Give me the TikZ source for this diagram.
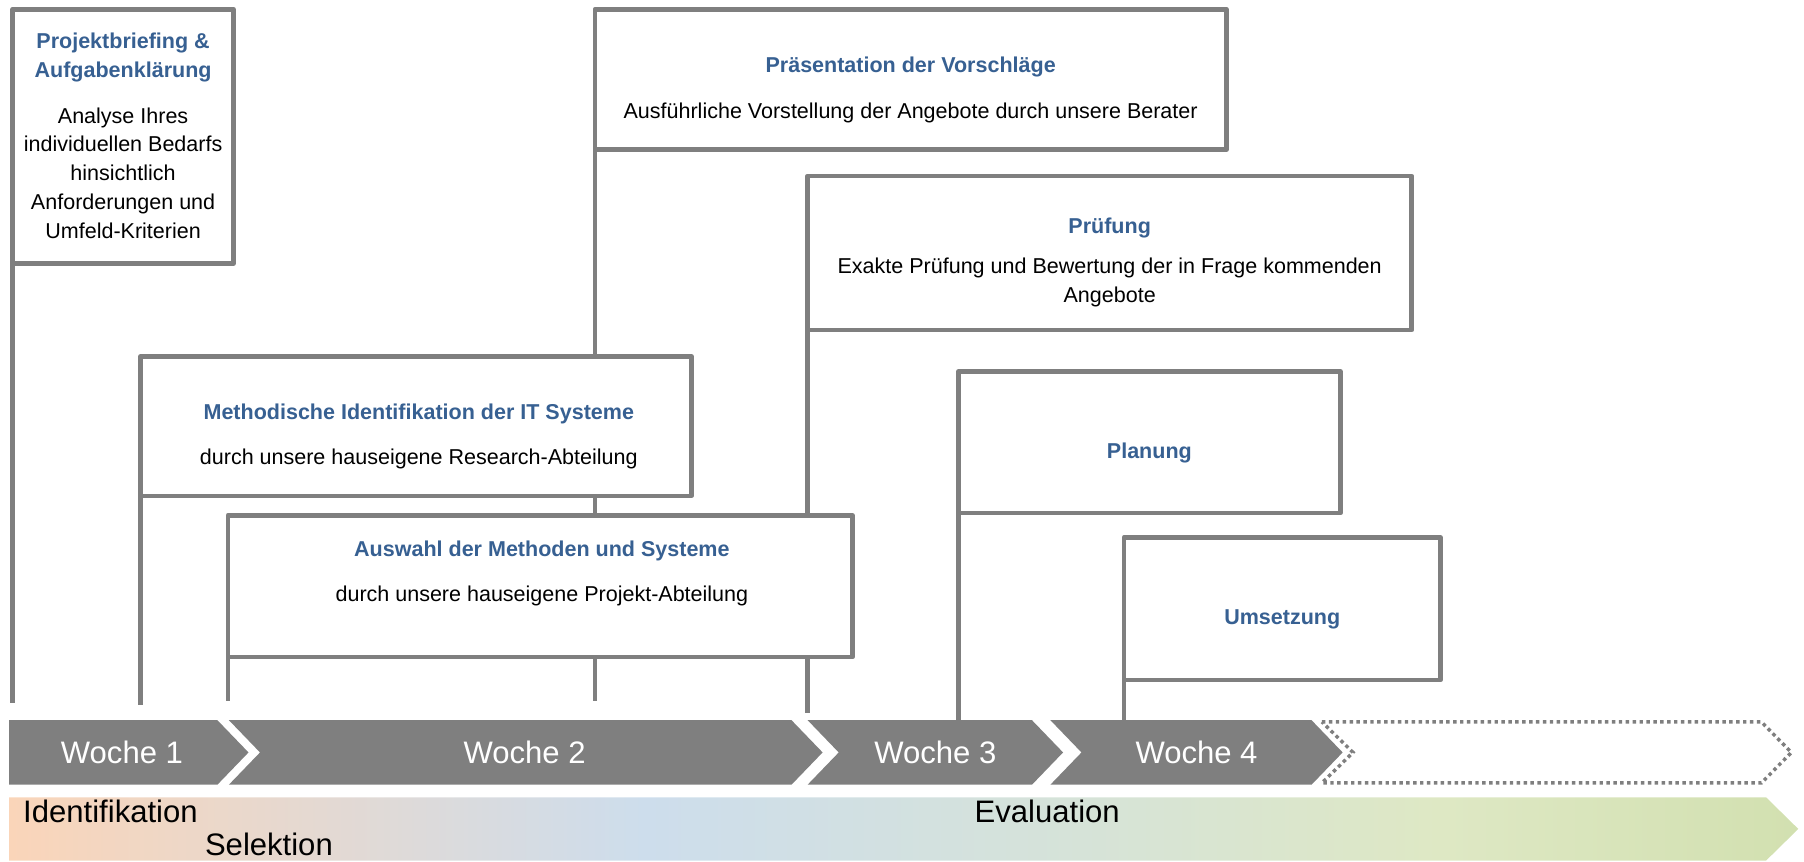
\documentclass[tikz,border=0pt]{standalone}
\usepackage{fontspec}
\setmainfont{Liberation Sans}
\usetikzlibrary{backgrounds}
\definecolor{lgrey}{RGB}{127,127,127}
\definecolor{tblue}{RGB}{55,96,146}
\definecolor{gpeach}{RGB}{250,213,185}
\definecolor{gblue}{RGB}{205,221,236}
\definecolor{gmid}{RGB}{214,227,216}
\definecolor{gyel}{RGB}{222,232,196}
\definecolor{ggreen}{RGB}{210,224,176}
\pgfdeclarehorizontalshading{phaseshade}{100bp}{color(0bp)=(gpeach); color(25bp)=(gpeach); color(42.75bp)=(gblue); color(55bp)=(gmid); color(65bp)=(gyel); color(75bp)=(ggreen); color(100bp)=(ggreen)}
\begin{document}
\begin{tikzpicture}[x=1pt,y=-1pt,
  stepbox/.style={draw=lgrey, line width=4pt, fill=white, rectangle, inner sep=0pt, outer sep=0pt, anchor=north west, line join=round},
  conn/.style={draw=lgrey, line width=4pt},
  ttl/.style={font=\fontsize{18.7}{22}\selectfont\bfseries, text=tblue, anchor=base, inner sep=0pt},
  bdy/.style={font=\fontsize{18.7}{22}\selectfont, text=black, anchor=base, inner sep=0pt},
  wk/.style={font=\fontsize{27}{30}\selectfont, text=white, anchor=base, inner sep=0pt},
  ph/.style={font=\fontsize{27}{30}\selectfont, text=black, anchor=base west, inner sep=0pt},
  chev/.style={fill=lgrey},
  dotchev/.style={draw=lgrey, line width=3pt, dash pattern=on 3pt off 3pt}
]
\useasboundingbox (0,0) rectangle (1568,749);

% boxes
\node[stepbox, minimum width=192pt, minimum height=221pt] (b1) at (11,8) {};
\node[stepbox, minimum width=549pt, minimum height=122pt] (pres) at (517,8) {};
\node[stepbox, minimum width=525pt, minimum height=134pt] (pruef) at (702,153) {};
\node[stepbox, minimum width=479pt, minimum height=121pt] (meth) at (122,310) {};
\node[stepbox, minimum width=543pt, minimum height=123pt] (ausw) at (198,448) {};
\node[stepbox, minimum width=332pt, minimum height=123pt] (plan) at (833,323) {};
\node[stepbox, minimum width=275pt, minimum height=124pt] (ums) at (977,467) {};

% free ends of connectors
\coordinate (e1) at (11,611);
\coordinate (e2) at (517,609);
\coordinate (e3) at (702,620);
\coordinate (e4) at (122,613);
\coordinate (e5) at (198,609);
\coordinate (e6) at (833,626);
\coordinate (e7) at (977,626);

\begin{pgfonlayer}{background}
\draw[conn] (b1.south west) -- (e1);
\draw[conn] (pres.south west) -- (e2);
\draw[conn] (pruef.south west) -- (e3);
\draw[conn] (meth.south west) -- (e4);
\draw[conn] (ausw.south west) -- (e5);
\draw[conn] (plan.south west) -- (e6);
\draw[conn] (ums.south west) -- (e7);
\end{pgfonlayer}

% box texts
\node[ttl] (t1a) at (107,42) {Projektbriefing \&};
\node[ttl] (t1b) at (107,67.2) {Aufgabenklärung};
\node[bdy] (d1a) at (107,107.2) {Analyse Ihres};
\node[bdy] (d1b) at (107,131.8) {individuellen Bedarfs};
\node[bdy] (d1c) at (107,156.7) {hinsichtlich};
\node[bdy] (d1d) at (107,182.5) {Anforderungen und};
\node[bdy] (d1e) at (107,207.7) {Umfeld-Kriterien};

\node[ttl] (t2) at (791.5,63) {Präsentation der Vorschläge};
\node[bdy] (d2) at (791.5,103) {Ausführliche Vorstellung der Angebote durch unsere Berater};

\node[ttl] (t3) at (964.5,203) {Prüfung};
\node[bdy] (d3a) at (964.5,238) {Exakte Prüfung und Bewertung der in Frage kommenden};
\node[bdy] (d3b) at (964.5,262.5) {Angebote};

\node[ttl] (t4) at (364,365) {Methodische Identifikation der IT Systeme};
\node[bdy] (d4) at (364,404) {durch unsere hauseigene Research-Abteilung};

\node[ttl] (t5) at (471,484) {Auswahl der Methoden und Systeme};
\node[bdy] (d5) at (471,523) {durch unsere hauseigene Projekt-Abteilung};

\node[ttl] (t6) at (999,398.5) {Planung};
\node[ttl] (t7) at (1114.5,543) {Umsetzung};

% week chevrons
\fill[chev] (8,626) -- (189,626) -- (216,654) -- (189,682) -- (8,682) -- cycle;
\fill[chev] (199,626) -- (688,626) -- (715,654) -- (688,682) -- (199,682) -- (226,654) -- cycle;
\fill[chev] (702,626) -- (897,626) -- (924,654) -- (897,682) -- (702,682) -- (729,654) -- cycle;
\fill[chev] (913,626) -- (1140,626) -- (1167,654) -- (1140,682) -- (913,682) -- (940,654) -- cycle;
\draw[dotchev] (1149,627.5) -- (1531,627.5) -- (1557,654) -- (1531,680.5) -- (1149,680.5) -- (1176,654) -- cycle;

\node[wk] (w1) at (106,664) {Woche 1};
\node[wk] (w2) at (456,664) {Woche 2};
\node[wk] (w3) at (813,664) {Woche 3};
\node[wk] (w4) at (1040,664) {Woche 4};

% phase bar
\shade[shading=phaseshade] (8,693) -- (1535,693) -- (1563,720.5) -- (1535,748) -- (8,748) -- cycle;
\node[ph] (p1) at (20,714.5) {Identifikation};
\node[ph] (p2) at (178,744) {Selektion};
\node[ph] (p3) at (847,714.5) {Evaluation};
\end{tikzpicture}
\end{document}
